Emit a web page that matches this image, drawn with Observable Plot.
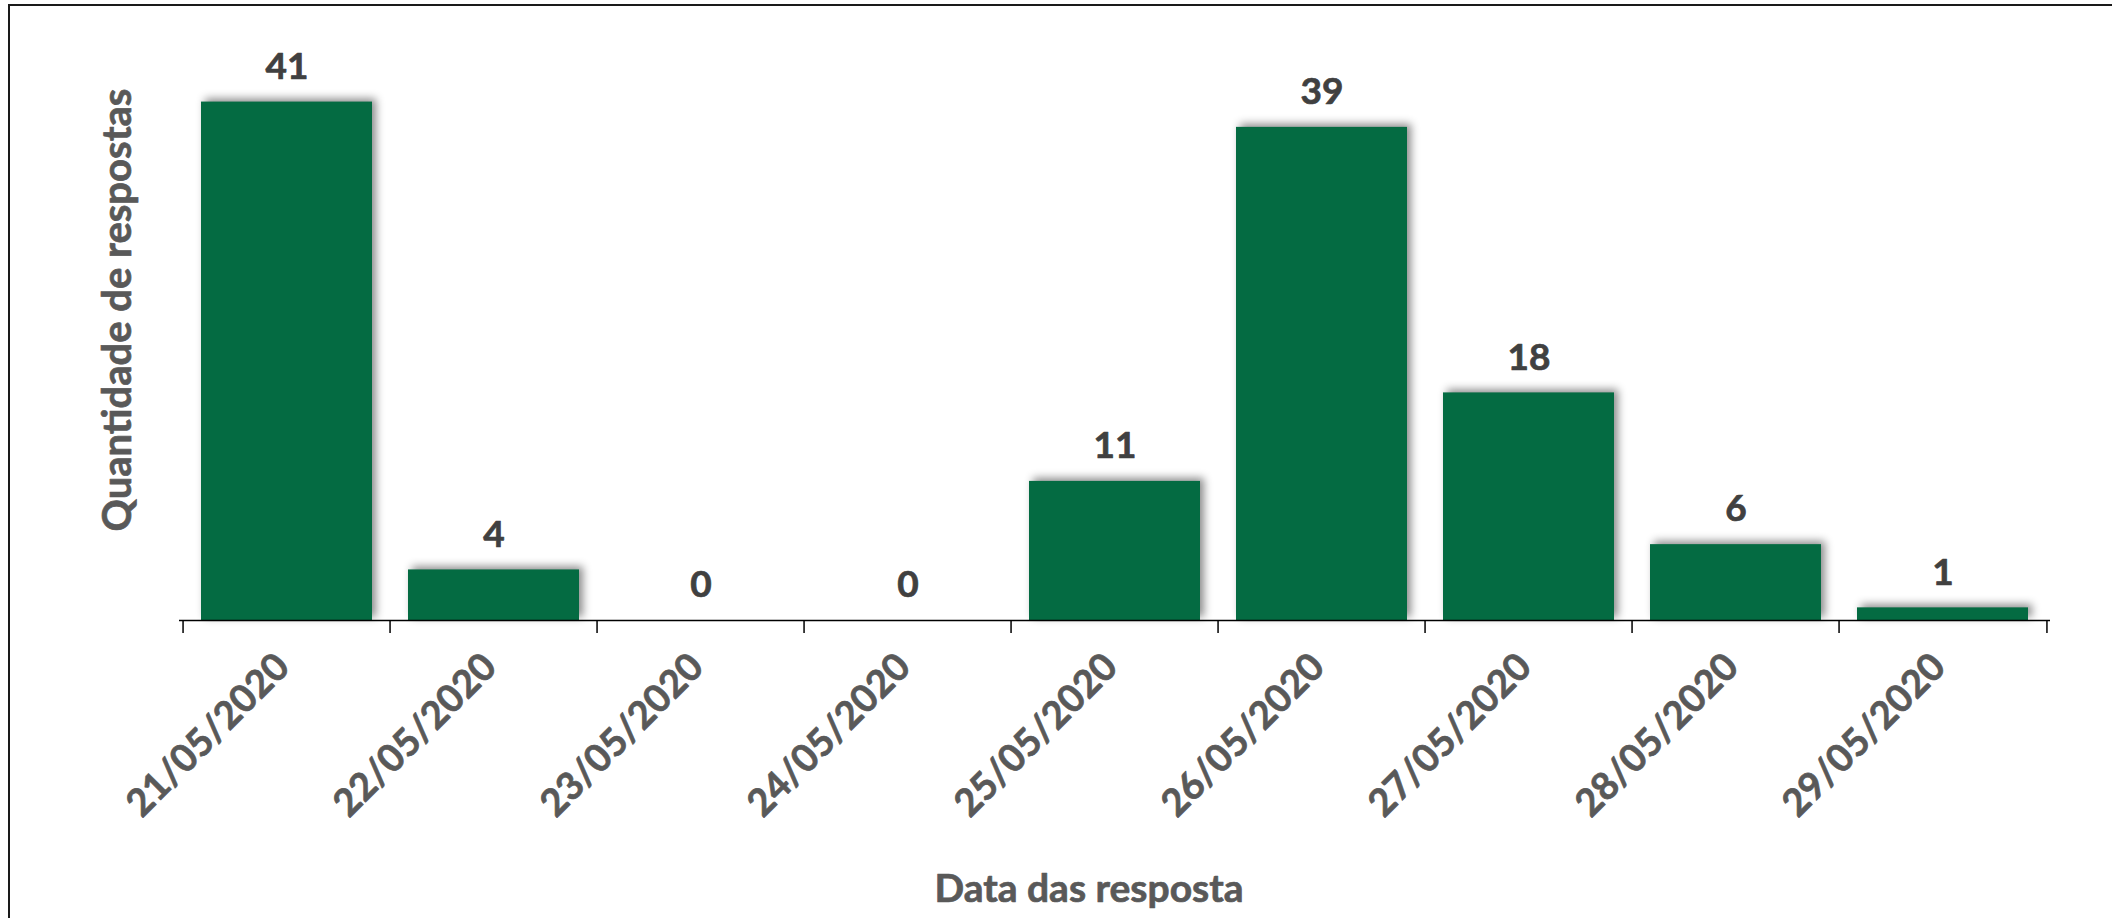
<!DOCTYPE html>
<html><head><meta charset="utf-8">
<script src="https://cdn.jsdelivr.net/npm/d3@7"></script>
<script src="https://cdn.jsdelivr.net/npm/@observablehq/plot@0.6"></script>
<style>
body{margin:0;background:#fff;overflow:hidden}
#frame{position:absolute;left:8px;top:4px;width:2200px;height:1000px;border:2px solid #1a1a1a;box-sizing:border-box}
#chart{position:absolute;left:0;top:0}
#chart g[aria-label="bar"] rect{filter:drop-shadow(4px -3px 4px rgba(0,0,0,0.45))}
</style></head><body>
<div id="frame"></div><div id="chart"></div>
<script>
const datas = ["21/05/2020","22/05/2020","23/05/2020","24/05/2020","25/05/2020","26/05/2020","27/05/2020","28/05/2020","29/05/2020"];
const respostas = [41, 4, 0, 0, 11, 39, 18, 6, 1];
const eixoX = "Data das resposta";
const eixoY = "Quantidade de respostas";

const tabela = datas.map((d, i) => ({data: d, n: respostas[i]}));

const W = 2112, H = 918, mL = 179, mR = 62, mT = 51, mB = 298;
const step = (W - mL - mR) / datas.length;
const font = "Lato, 'Open Sans', sans-serif";
const peso = "bold";

const chart = Plot.plot({
  width: W, height: H,
  marginLeft: mL, marginRight: mR, marginTop: mT, marginBottom: mB,
  style: {fontFamily: font, background: "transparent"},
  x: {domain: datas, paddingInner: 0.173, paddingOuter: 0.0865, axis: null},
  y: {domain: [0, 45], axis: null},
  marks: [
    Plot.barY(tabela, {x: "data", y: "n", fill: "#046b42"}),
    Plot.ruleY([0], {stroke: "#000", strokeWidth: 1.5}),
    Plot.ruleX(datas, {x: d => d, y1: 0, y2: 0, insetBottom: -13, dx: -step / 2, stroke: "#000", strokeWidth: 1.5}),
    Plot.ruleX([datas[datas.length - 1]], {x: d => d, y1: 0, y2: 0, insetBottom: -13, dx: step / 2, stroke: "#000", strokeWidth: 1.5}),
    Plot.text(tabela, {x: "data", y: "n", text: d => String(d.n), dy: -35, lineAnchor: "middle",
      fontSize: 37, fontWeight: peso, fill: "#404040", stroke: "#404040", strokeWidth: 0.7, fontFamily: font}),
    Plot.text(tabela, {x: "data", text: "data", frameAnchor: "bottom", rotate: -45, textAnchor: "end",
      lineAnchor: "middle", dx: -4, dy: 40, fontSize: 38, fontWeight: peso, fill: "#595959", stroke: "#595959", strokeWidth: 0.7, fontFamily: font}),
    Plot.text([eixoY], {text: d => d, frameAnchor: "left", rotate: -90, textAnchor: "middle", dx: -61, dy: -26,
      lineAnchor: "middle", fontSize: 40, fontWeight: peso, fill: "#595959", stroke: "#595959", strokeWidth: 0.7, fontFamily: font}),
    Plot.text([eixoX], {text: d => d, frameAnchor: "bottom", textAnchor: "middle", dx: -26, dy: 269,
      lineAnchor: "middle", fontSize: 39, fontWeight: peso, fill: "#595959", stroke: "#595959", strokeWidth: 0.7, fontFamily: font})
  ]
});
document.getElementById("chart").appendChild(chart);
</script>
</body></html>
